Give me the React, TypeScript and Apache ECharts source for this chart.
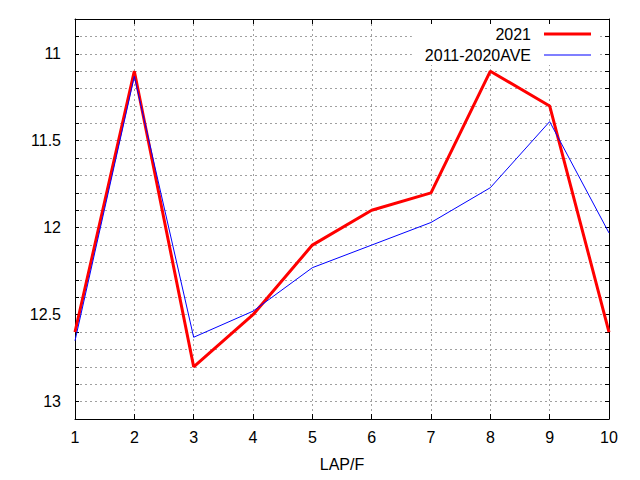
import React, { useEffect, useRef } from "react";
import * as echarts from "echarts";

const laps = [1, 2, 3, 4, 5, 6, 7, 8, 9, 10];
const series2021 = [12.6, 11.1, 12.8, 12.5, 12.1, 11.9, 11.8, 11.1, 11.3, 12.6];
const seriesAve = [12.65, 11.13, 12.63, 12.48, 12.23, 12.1, 11.97, 11.77, 11.39, 12.03];
const seriesNames = ["2021", "2011-2020AVE"];
const yLabelValues = [11, 11.5, 12, 12.5, 13];

const FONT = "'Liberation Sans', Arial, sans-serif";
const FS = 16;

export default function App() {
  const ref = useRef<HTMLDivElement>(null);

  useEffect(() => {
    if (!ref.current) return;
    const chart = echarts.init(ref.current, undefined, { renderer: "svg" });

    const gridLine = {
      show: true,
      lineStyle: { color: "#a0a0a0", width: 1, type: [2, 3] as any },
    };
    const axisLine = { show: true, onZero: false, lineStyle: { color: "#000", width: 1 } };
    const tick = { show: true, inside: true, length: 4, lineStyle: { color: "#000" } };

    const yFormatter = (v: number) => {
      for (const l of yLabelValues) {
        if (Math.abs(v - l) < 1e-6) return String(l);
      }
      return "";
    };

    chart.setOption({
      animation: false,
      backgroundColor: "#fff",
      textStyle: { fontFamily: FONT },
      grid: { left: 75, top: 19, right: 31, bottom: 61, containLabel: false },
      legend: {
        orient: "vertical",
        align: "right",
        right: 40,
        top: 24,
        padding: [2, 9, 2, 13],
        backgroundColor: "#fff",
        itemWidth: 47,
        itemHeight: 14,
        itemGap: 5,
        selectedMode: false,
        textStyle: {
          fontSize: FS,
          color: "#000",
          fontFamily: FONT,
          lineHeight: 14,
          padding: [0, 8, 0, 0],
        },
        data: [
          { name: seriesNames[0], icon: "path://M0,0H47V3H0Z", itemStyle: { color: "#ff0000" } },
          { name: seriesNames[1], icon: "path://M0,0H47V1H0Z", itemStyle: { color: "#0000ff" } },
        ],
      },
      xAxis: [
        {
          type: "value",
          position: "bottom",
          min: 1,
          max: 10,
          interval: 1,
          axisLine,
          axisTick: { ...tick, length: 5 },
          splitLine: gridLine,
          axisLabel: { color: "#000", fontSize: FS, margin: 10, fontFamily: FONT },
          name: "LAP/F",
          nameLocation: "middle",
          nameGap: 37,
          nameTextStyle: { color: "#000", fontSize: FS, fontFamily: FONT },
        },
        {
          type: "value",
          position: "top",
          min: 1,
          max: 10,
          interval: 1,
          axisLine,
          axisTick: { ...tick, length: 5 },
          splitLine: { show: false },
          axisLabel: { show: false },
        },
      ],
      yAxis: [
        {
          type: "value",
          position: "left",
          inverse: true,
          min: 10.8,
          max: 13.1,
          interval: 0.1,
          axisLine,
          axisTick: tick,
          splitLine: gridLine,
          axisLabel: {
            color: "#000",
            fontSize: FS,
            margin: 14,
            fontFamily: FONT,
            formatter: yFormatter,
          },
        },
        {
          type: "value",
          position: "right",
          inverse: true,
          min: 10.8,
          max: 13.1,
          interval: 0.1,
          axisLine,
          axisTick: tick,
          splitLine: { show: false },
          axisLabel: { show: false },
        },
      ],
      series: [
        {
          name: seriesNames[0],
          type: "line",
          xAxisIndex: 0,
          yAxisIndex: 0,
          symbol: "none",
          lineStyle: { color: "#ff0000", width: 3 },
          itemStyle: { color: "#ff0000" },
          data: laps.map((x, i) => [x, series2021[i]]),
        },
        {
          name: seriesNames[1],
          type: "line",
          xAxisIndex: 0,
          yAxisIndex: 0,
          symbol: "none",
          lineStyle: { color: "#0000ff", width: 1 },
          itemStyle: { color: "#0000ff" },
          data: laps.map((x, i) => [x, seriesAve[i]]),
        },
      ],
    });

    return () => chart.dispose();
  }, []);

  return (
    <div
      ref={ref}
      style={{ position: "fixed", left: 0, top: 0, width: 640, height: 480 }}
    />
  );
}
